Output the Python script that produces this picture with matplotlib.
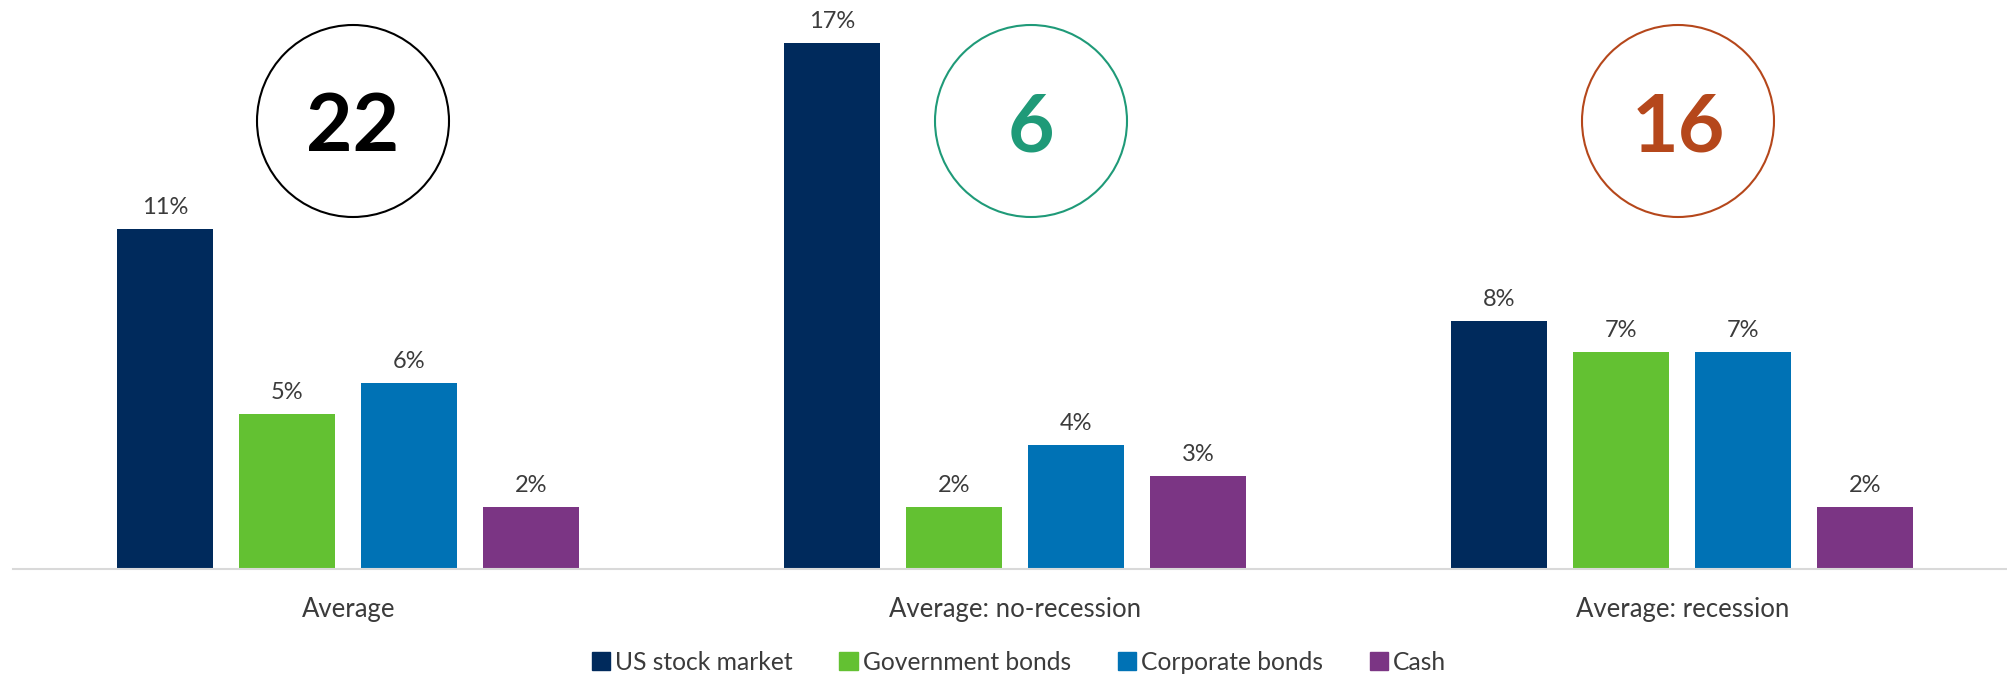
import numpy as np
import matplotlib.pyplot as plt
from matplotlib.patches import Ellipse, Patch

plt.rcParams['font.family'] = ['Lato', 'DejaVu Sans']

# average annual real returns by regime
categories = ["Average", "Average: no-recession", "Average: recession"]
series = ["US stock market", "Government bonds", "Corporate bonds", "Cash"]
us_stock = [11, 17, 8]
gov_bonds = [5, 2, 7]
corp_bonds = [6, 4, 7]
cash = [2, 3, 2]
badge_numbers = ["22", "6", "16"]

colors = ["#002a5c", "#63c132", "#0072b5", "#7b3584"]
badge_colors = ["#000000", "#1f9a78", "#b5471b"]
text_gray = "#3b3b3b"

W, H = 2008, 674
fig = plt.figure(figsize=(W / 100, H / 100), dpi=100)
base_px = 569
ax = fig.add_axes([15 / W, (H - base_px) / H, 2001 / W, base_px / H])
px_per_pct = 30.94
ax.set_ylim(0, base_px / px_per_pct)
ax.set_xlim(-0.5, 2.5)

x = np.arange(len(categories))
step = 122 / 667
width = 96 / 667
for k, (vals, c) in enumerate(zip([us_stock, gov_bonds, corp_bonds, cash], colors)):
    pos = x + (k - 1.5) * step
    bars = ax.bar(pos, vals, width=width, color=c, label=series[k])
    for b, v in zip(bars, vals):
        ax.annotate(f"{v}%", (b.get_x() + b.get_width() / 2, v),
                    xytext=(0, 8), textcoords="offset points",
                    ha="center", va="bottom", fontsize=17, color=text_gray)

for s in ["top", "right", "left"]:
    ax.spines[s].set_visible(False)
ax.spines["bottom"].set_color("#d9d9d9")
ax.spines["bottom"].set_linewidth(1.5)
ax.spines["bottom"].set_bounds(-0.5 - 2 / 667, 2.5)
ax.set_yticks([])
ax.set_xticks(x)
ax.set_xticklabels(categories, fontsize=18.5, color=text_gray)
ax.tick_params(axis="x", length=0, pad=20)

# numbered badges above each group
badge_x = [353, 1031, 1678]
badge_y = 121
r = 96
for bx, num, bc in zip(badge_x, badge_numbers, badge_colors):
    fig.patches.append(Ellipse((bx / W, 1 - badge_y / H), 2 * r / W, 2 * r / H,
                               transform=fig.transFigure, fill=False,
                               edgecolor=bc, linewidth=1.5))
    fig.text(bx / W, 1 - badge_y / H, num, ha="center", va="center_baseline",
             fontsize=58, fontweight="bold", color=bc)

handles = [Patch(color=c) for c in colors]
leg = fig.legend(handles, series, loc="center", bbox_to_anchor=(1019 / W, 1 - 662 / H),
                 ncol=4, frameon=False, fontsize=17.7, handlelength=0.75, handleheight=0.75,
                 handletextpad=0.2, columnspacing=1.9)
for t in leg.get_texts():
    t.set_color(text_gray)

fig.savefig("out.png", dpi=100)
